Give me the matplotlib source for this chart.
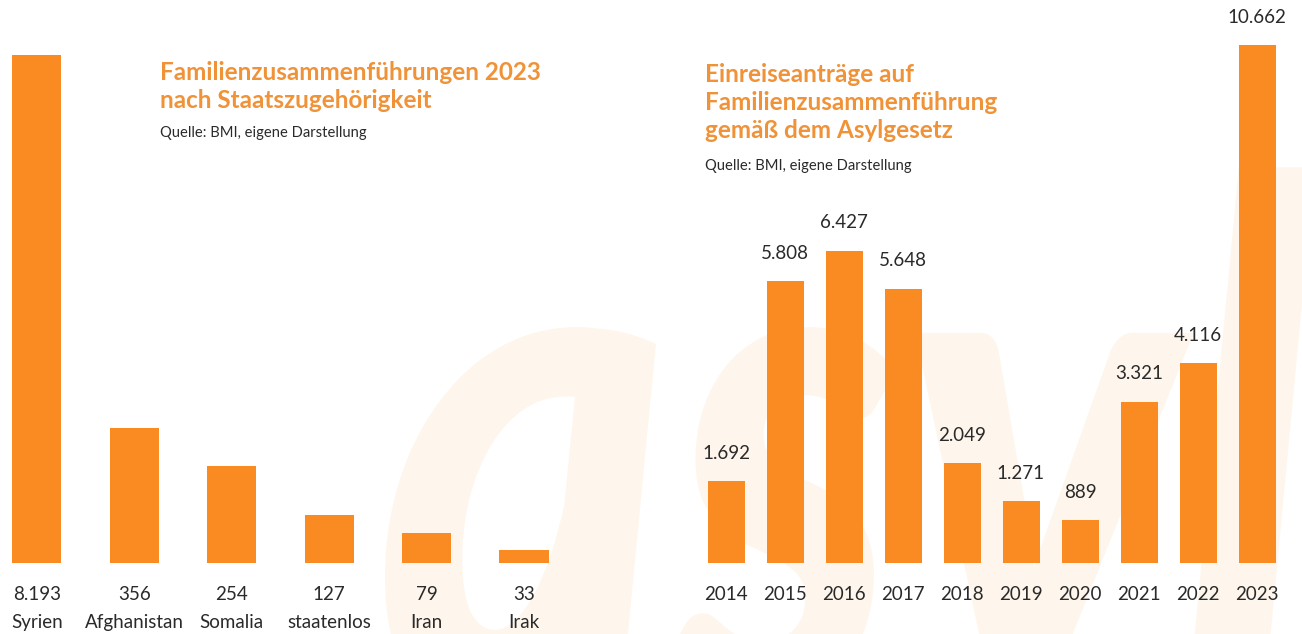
import matplotlib
matplotlib.use("Agg")
import matplotlib.pyplot as plt
from matplotlib.textpath import TextPath
from matplotlib.font_manager import FontProperties
from matplotlib.patches import PathPatch
from matplotlib.transforms import Affine2D, IdentityTransform

# ---------------- data ----------------
countries = ["Syrien", "Afghanistan", "Somalia", "staatenlos", "Iran", "Irak"]
country_values = [8193, 356, 254, 127, 79, 33]
country_labels = ["8.193", "356", "254", "127", "79", "33"]

years = ["2014", "2015", "2016", "2017", "2018", "2019", "2020", "2021", "2022", "2023"]
year_values = [1692, 5808, 6427, 5648, 2049, 1271, 889, 3321, 4116, 10662]
year_labels = ["1.692", "5.808", "6.427", "5.648", "2.049", "1.271", "889", "3.321", "4.116", "10.662"]

left_title = "Familienzusammenführungen 2023\nnach Staatszugehörigkeit"
right_title = "Einreiseanträge auf\nFamilienzusammenführung\ngemäß dem Asylgesetz"
source = "Quelle: BMI, eigene Darstellung"

# ---------------- style ----------------
BAR = "#FA8A22"
TITLE = "#F09238"
TXT = "#2A2A2A"
WM = "#FEF6EC"
FONT = ["Lato", "DejaVu Sans"]
plt.rcParams["font.family"] = FONT

W, H = 1302, 634
fig = plt.figure(figsize=(W / 100, H / 100), dpi=100)
fig.patch.set_facecolor("white")

def fx(px):
    return px / W

def fy(py):
    return 1 - py / H

# watermark "asyl"
fp = FontProperties(family="Lato", weight="black", style="italic")
tp = TextPath((0, 0), "asyl", size=1, prop=fp)
bb = tp.get_extents()
sx = 930 / bb.width
sy = 720
tr = Affine2D().scale(sx, sy).translate(385 - bb.x0 * sx, -70)
wm = PathPatch(tp, transform=tr + IdentityTransform(), facecolor=WM, edgecolor="none", zorder=-5)
fig.patches.append(wm)
wm.set_figure(fig)

# ---------------- left chart ----------------
lsp = 97.4
lc0 = 37
ax1 = fig.add_axes([0, fy(563), fx(570), fy(55) - fy(563)])
ax1.set_facecolor("none")
ax1.bar(range(len(countries)), country_values, width=49 / lsp, color=BAR, zorder=2)
ax1.set_xlim(-lc0 / lsp, (570 - lc0) / lsp)
ax1.set_ylim(0, 1337)
ax1.axis("off")
for i, (c, lab) in enumerate(zip(countries, country_labels)):
    ax1.annotate(lab, xy=(i, 0), xycoords=("data", "axes fraction"), xytext=(0, -22.5),
                 textcoords="offset points", ha="center", va="center", fontsize=13.5, color=TXT,
                 annotation_clip=False)
    ax1.annotate(c, xy=(i, 0), xycoords=("data", "axes fraction"), xytext=(0, -42.5),
                 textcoords="offset points", ha="center", va="center", fontsize=13.5, color=TXT,
                 annotation_clip=False)

fig.text(fx(160), fy(61), left_title, ha="left", va="top", fontsize=17.5, fontweight="bold",
         color=TITLE, linespacing=1.25)
fig.text(fx(160), fy(126), source, ha="left", va="top", fontsize=10.6, color=TXT)

# ---------------- right chart ----------------
rsp = 59
rc0 = 726
ax2 = fig.add_axes([fx(680), fy(563), fx(622), fy(45) - fy(563)])
ax2.set_facecolor("none")
ax2.bar(range(len(years)), year_values, width=37 / rsp, color=BAR, zorder=2)
ax2.set_xlim((680 - rc0) / rsp, (1302 - rc0) / rsp)
ax2.set_ylim(0, max(year_values))
ax2.axis("off")
for i, (y, v, lab) in enumerate(zip(years, year_values, year_labels)):
    ax2.annotate(lab, xy=(i, v), xytext=(0, 20), textcoords="offset points",
                 ha="center", va="center", fontsize=13.5, color=TXT, annotation_clip=False)
    ax2.annotate(y, xy=(i, 0), xycoords=("data", "axes fraction"), xytext=(0, -23),
                 textcoords="offset points", ha="center", va="center", fontsize=13.5, color=TXT,
                 annotation_clip=False)

fig.text(fx(705), fy(63), right_title, ha="left", va="top", fontsize=17.5, fontweight="bold",
         color=TITLE, linespacing=1.25)
fig.text(fx(705), fy(159), source, ha="left", va="top", fontsize=10.6, color=TXT)

fig.savefig("out.png", dpi=100, facecolor="white")
